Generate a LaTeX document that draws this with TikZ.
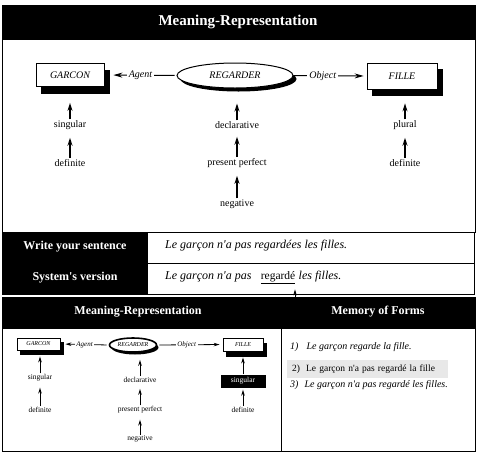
\documentclass[tikz,border=0pt]{standalone}
\usepackage{fontspec}
\setmainfont{Liberation Serif}
\usetikzlibrary{arrows.meta,shapes.geometric}
\newcommand\apos{\textquotesingle}
\begin{document}
\begin{tikzpicture}[x=1pt,y=-1pt,
frame/.style={draw, line width=1pt},
head/.style={text=white, font=\fontsize{15}{18}\selectfont\bfseries},
subhead/.style={text=white, font=\fontsize{12}{14}\selectfont\bfseries},
box/.style={draw, fill=white, rectangle, line width=0.8pt, font=\fontsize{10}{12}\selectfont\itshape},
backbox/.style={draw=black, fill=black, rectangle, inner sep=0pt},
oval/.style={draw, fill=white, ellipse, line width=1pt, inner sep=0pt, font=\fontsize{10}{12}\selectfont\itshape},
sbox/.style={draw, fill=white, rectangle, line width=0.8pt, inner sep=0pt, font=\fontsize{6}{7}\selectfont\itshape},
soval/.style={draw, fill=white, ellipse, line width=1.6pt, inner sep=0pt, font=\fontsize{6}{7}\selectfont\itshape},
lab/.style={fill=white, inner sep=2pt, font=\fontsize{10}{12}\selectfont\itshape},
slab/.style={fill=white, inner sep=1.5pt, font=\fontsize{7}{8}\selectfont\itshape},
feat/.style={inner sep=1pt, font=\fontsize{10}{12}\selectfont},
sfeat/.style={inner sep=1pt, font=\fontsize{7.5}{9}\selectfont},
rel/.style={-{Stealth[length=9pt,width=5pt]}, line width=1pt},
srel/.style={-{Stealth[length=6pt,width=3.5pt]}, line width=0.8pt},
up/.style={-{Stealth[length=8pt,width=5pt]}, line width=1.2pt},
sup/.style={-{Stealth[length=6pt,width=3.5pt]}, line width=1pt},
rowhead/.style={text=white, font=\fontsize{12}{14}\selectfont\bfseries},
sent/.style={inner sep=0pt, font=\fontsize{12}{14}\selectfont\itshape},
mem/.style={inner sep=0pt, font=\fontsize{10}{12}\selectfont}
]
\useasboundingbox (0,0) rectangle (482,453);

% top meaning representation
\fill (2,5) rectangle (475,40);
\draw[frame] (2,5) rectangle (475,232);
\node[head] (mrtitle) at (238,22) {Meaning-Representation};

\node[backbox, minimum width=68pt, minimum height=23pt] (garconsh) at (75,82) {};
\node[backbox, minimum width=70pt, minimum height=26pt] (fillesh) at (407,82) {};
\fill (238.5,79) ellipse [x radius=58, y radius=12.5];
\node[box, minimum width=68pt, minimum height=23pt] (garcon) at (70,75) {GARCON};
\node[oval, minimum width=116pt, minimum height=25pt] (regarder) at (235,75.5) {REGARDER};
\node[box, minimum width=70pt, minimum height=26pt] (fille) at (402,76) {FILLE};
\draw[rel, shorten >=9pt, shorten <=2pt] (regarder.west) -- node[lab]{Agent} (garcon.east);
\draw[rel, shorten >=3pt] (regarder.east) -- node[lab, pos=.4]{Object} (fille.west);

\node[feat] (sing1) at (70,125) {singular};
\node[feat] (def1) at (70,163) {definite};
\node[feat] (decl) at (237,125) {declarative};
\node[feat] (pp) at (237,163) {present perfect};
\node[feat] (neg) at (237,204) {negative};
\node[feat] (plur) at (405,125) {plural};
\node[feat] (def2) at (405,163) {definite};
\draw[up, shorten >=16pt] (sing1.north) -- (sing1.north |- garcon.south);
\draw[up, shorten >=7pt] (def1.north) -- (sing1.south);
\draw[up, shorten >=15pt] (decl.north) -- (decl.north |- regarder.south);
\draw[up, shorten >=7pt] (pp.north) -- (decl.south);
\draw[up, shorten >=7pt] (neg.north) -- (pp.south);
\draw[up, shorten >=14pt] (plur.north) -- (plur.north |- fille.south);
\draw[up, shorten >=7pt] (def2.north) -- (plur.south);

% sentence rows
\fill (2,232) rectangle (148,294);
\draw[frame] (2,232) rectangle (474,294);
\draw[line width=0.8pt] (148,263) -- (474,263);
\node[rowhead] (write) at (75,247) {Write your sentence};
\node[rowhead] (sysv) at (75,278) {System\apos s version};
\node[sent, anchor=west] (input) at (165,246) {Le garçon n\apos a pas regardées les filles.};
\node[sent, anchor=west] (out1) at (165,277) {Le garçon n\apos a pas};
\node[sent, anchor=base west, xshift=9pt, font=\fontsize{11.5}{14}\selectfont] (regarde) at (out1.base east) {\underline{regardé}};
\node[sent, anchor=base west, xshift=3pt] (out2) at (regarde.base east) {les filles.};
\coordinate (cue) at (295,299);
\draw[sup, shorten >=5pt] (cue) -- (cue |- regarde.south);

% bottom panels
\fill (2,297) rectangle (475,329);
\draw[frame] (2,297) rectangle (281,451);
\draw[frame] (281,297) rectangle (475,451);
\node[subhead] (mrsub) at (138,312) {Meaning-Representation};
\node[subhead] (memsub) at (378,312) {Memory of Forms};

\node[backbox, minimum width=43pt, minimum height=12pt] (garcon2sh) at (41.5,348) {};
\node[backbox, minimum width=40pt, minimum height=13pt] (fille2sh) at (246,349.5) {};
\fill (135,347.5) ellipse [x radius=23.5, y radius=7];
\node[sbox, minimum width=43pt, minimum height=12pt] (garcon2) at (38.5,344) {GARCON};
\node[soval, minimum width=47pt, minimum height=14pt] (regarder2) at (133,345) {REGARDER};
\node[sbox, minimum width=40pt, minimum height=13pt] (fille2) at (243,344.5) {FILLE};
\draw[srel, shorten >=5pt, shorten <=2pt] (regarder2.west) -- node[slab]{Agent} (garcon2.east);
\draw[srel, shorten >=3pt, shorten <=2pt] (regarder2.east) -- node[slab, pos=.45]{Object} (fille2.west);

\node[sfeat] (sing3) at (40,378) {singular};
\node[sfeat] (def3) at (40,410) {definite};
\node[sfeat] (decl2) at (140,380) {declarative};
\node[sfeat] (pp2) at (140,410) {present perfect};
\node[sfeat] (neg2) at (140,439) {negative};
\node[sfeat, fill=black, text=white, minimum width=45pt, minimum height=13pt] (sing4) at (243,381) {singular};
\node[sfeat] (def4) at (243,410) {definite};
\draw[sup, shorten >=6pt] (sing3.north) -- (sing3.north |- garcon2.south);
\draw[sup, shorten >=5pt] (def3.north) -- (sing3.south);
\draw[sup, shorten >=7pt] (decl2.north) -- (decl2.north |- regarder2.south);
\draw[sup, shorten >=5pt] (pp2.north) -- (decl2.south);
\draw[sup, shorten >=5pt] (neg2.north) -- (pp2.south);
\draw[sup, shorten >=6pt] (sing4.north) -- (sing4.north |- fille2.south);
\draw[sup, shorten >=2pt] (def4.north) -- (sing4.south);

% memory of forms
\node[mem, anchor=west, font=\fontsize{10}{12}\selectfont\itshape] (m1) at (290,347) {1)\hspace{8pt}Le garçon regarde la fille.};
\node[mem, anchor=west, fill=black!9, inner xsep=5pt, text width=151pt, minimum height=18pt, align=left, font=\fontsize{9.5}{11}\selectfont] (m2) at (287,369) {2)\hspace{6pt}Le garçon n\apos a pas regardé la fille};
\node[mem, anchor=west, font=\fontsize{10}{12}\selectfont\itshape] (m3) at (290,385) {3)\hspace{6pt}Le garçon n\apos a pas regardé les filles.};
\end{tikzpicture}
\end{document}
